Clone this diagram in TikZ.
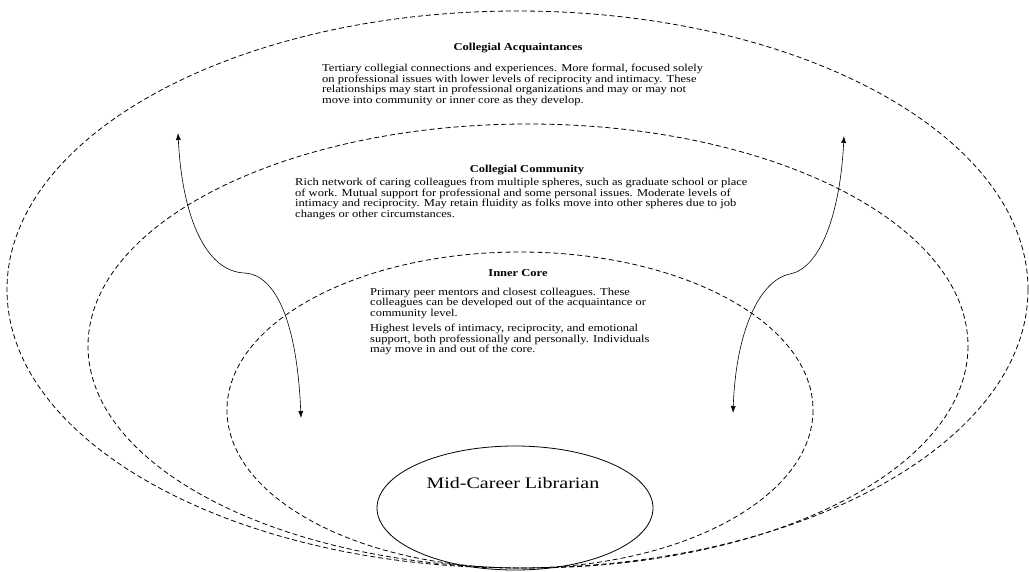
\documentclass[tikz,border=0pt]{standalone}
\usepackage{fontspec}
\setmainfont{Liberation Serif}[FakeStretch=1.18]
\newfontfamily\bigfont{Liberation Serif}[FakeStretch=1.25]
\usetikzlibrary{shapes.geometric,arrows.meta}
\tikzset{
  ring/.style={draw=black, dash pattern=on 5pt off 3pt, line width=0.8pt},
  bodytext/.style={font=\fontsize{10.6}{10.7}\selectfont, align=left, inner sep=0pt, anchor=base west},
  titletext/.style={font=\bfseries\fontsize{10.6}{10.7}\selectfont, inner sep=0pt, anchor=base},
  flow/.style={line width=0.6pt, {Latex[length=7pt,width=5pt]}-{Latex[length=7pt,width=5pt]}},
}
\begin{document}
\begin{tikzpicture}[x=1pt,y=-1pt]
\useasboundingbox (0,0) rectangle (1029,571);
% dashed spheres
\draw[ring] (517.5,289.5) ellipse [x radius=510.5, y radius=278.5];
\draw[ring] (528,346) ellipse [x radius=440, y radius=222];
\draw[ring] (520,410) ellipse [x radius=293, y radius=158];
% centre
\node[draw, ellipse, minimum width=276pt, minimum height=124pt, inner sep=0pt, line width=0.8pt] (mcl) at (515,508) {};
\node[font=\bigfont\fontsize{16}{18}\selectfont, anchor=base, inner sep=0pt] (mcltxt) at (513,488) {Mid-Career Librarian};
% texts (base anchor = baseline of the last line)
\node[titletext] (acqt) at (518,50.7) {Collegial Acquaintances};
\node[bodytext] (acqb) at (322,103.6) {Tertiary collegial connections and experiences. More formal, focused solely\\
on professional issues with lower levels of reciprocity and intimacy. These\\
relationships may start in professional organizations and may or may not\\
move into community or inner core as they develop.};
\node[titletext] (comt) at (527,172) {Collegial Community};
\node[bodytext] (comb) at (295,217.6) {Rich network of caring colleagues from multiple spheres, such as graduate school or place\\
of work. Mutual support for professional and some personal issues. Moderate levels of\\
intimacy and reciprocity. May retain fluidity as folks move into other spheres due to job\\
changes or other circumstances.};
\node[titletext] (inct) at (518,276.5) {Inner Core};
\node[bodytext] (incb) at (370,352.8) {Primary peer mentors and closest colleagues. These\\
colleagues can be developed out of the acquaintance or\\
community level.\\[4.3pt]
Highest levels of intimacy, reciprocity, and emotional\\
support, both professionally and personally. Individuals\\
may move in and out of the core.};
% movement arrows
\coordinate (lt) at (178,133);
\coordinate (lm) at (245,273);
\coordinate (lb) at (301,418);
\coordinate (rt) at (844,136);
\coordinate (rm) at (790,274);
\coordinate (rb) at (733,413);
\draw[flow] (lt) .. controls (182,215) and (205,272) .. (lm) .. controls (275,275) and (297,320) .. (lb);
\draw[flow] (rt) .. controls (840,215) and (820,268) .. (rm) .. controls (760,280) and (736,330) .. (rb);
\end{tikzpicture}
\end{document}
